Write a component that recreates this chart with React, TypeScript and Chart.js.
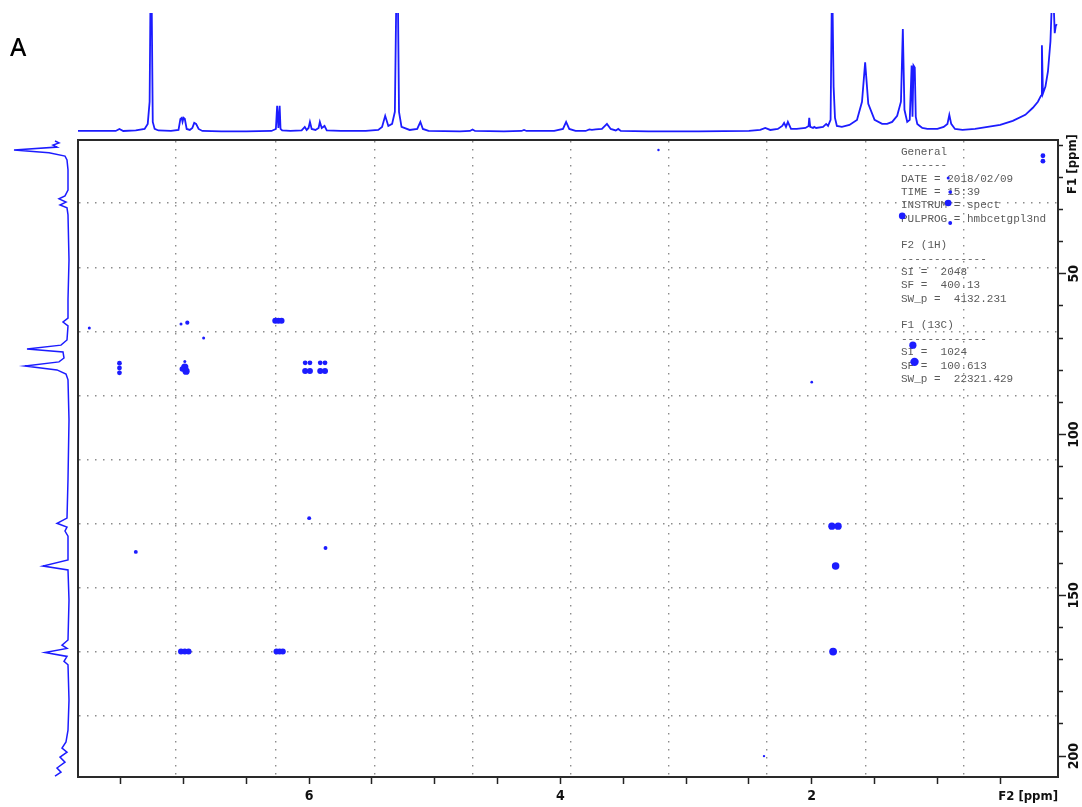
import React, { useEffect, useRef } from 'react';
import { Chart, registerables } from 'chart.js';

Chart.register(...registerables);

// ---------- axis ranges / ticks ----------
const F2_MIN = 0.04;
const F2_MAX = 7.84;
const F1_MIN = 8.4;
const F1_MAX = 206.5;
const F2_TICKS = [0.5, 1, 1.5, 2, 2.5, 3, 3.5, 4, 4.5, 5, 5.5, 6, 6.5, 7, 7.5];
const F2_LABELS = [2, 4, 6];
const F1_MAJOR = [50, 100, 150, 200];
const F1_MINOR = [10, 20, 30, 40, 60, 70, 80, 90, 110, 120, 130, 140, 160, 170, 180, 190];
const F2_GRID = [7.06, 6.27, 5.48, 4.7, 3.92, 3.14, 2.36, 1.57, 0.79];
const F1_GRID = [28, 48, 68, 88, 107.7, 127.6, 147.5, 167.4, 187.5];

// ---------- 1H projection (F2 ppm, intensity) ----------
const H1_SPECTRUM: [number, number][] = [
  [7.84, 1], [7.6, 1], [7.54, 1], [7.51, 3], [7.48, 1], [7.38, 1.5], [7.31, 3], [7.285, 8], [7.27, 30],
  [7.262, 150], [7.255, 150], [7.245, 10], [7.23, 3], [7.2, 1.5], [7.1, 1], [7.04, 2], [7.025, 13],
  [7.015, 14], [7.008, 10], [7.0, 14], [6.99, 13], [6.975, 3], [6.95, 2], [6.93, 4], [6.915, 9], [6.9, 8],
  [6.88, 3], [6.85, 1], [6.7, 0.5], [6.5, 0.5], [6.3, 1], [6.265, 3], [6.255, 26], [6.245, 4], [6.235, 26],
  [6.228, 3], [6.215, 1.5], [6.15, 1], [6.06, 1.5], [6.035, 5], [6.02, 2], [6.005, 4], [5.994, 10],
  [5.98, 3], [5.95, 2], [5.925, 4], [5.915, 10], [5.9, 4], [5.878, 6], [5.86, 1.5], [5.75, 1], [5.55, 1],
  [5.45, 2], [5.42, 5], [5.395, 16], [5.37, 6], [5.34, 8], [5.318, 20], [5.305, 150], [5.295, 150],
  [5.285, 20], [5.265, 5], [5.2, 2], [5.14, 3], [5.115, 10], [5.095, 3], [5.05, 1], [4.8, 0.5], [4.72, 1],
  [4.7, 2.5], [4.68, 1], [4.45, 0.5], [4.31, 1], [4.29, 2], [4.27, 1], [4.05, 1], [3.98, 3], [3.955, 10],
  [3.93, 3], [3.88, 1], [3.8, 1], [3.77, 2.5], [3.75, 2], [3.72, 2.5], [3.67, 3], [3.63, 8], [3.6, 3],
  [3.56, 1.5], [3.54, 3], [3.52, 1], [3.3, 0.5], [2.9, 0.5], [2.5, 1], [2.41, 2], [2.37, 4], [2.33, 2],
  [2.27, 3], [2.235, 6], [2.22, 9], [2.205, 5], [2.19, 10], [2.165, 3], [2.12, 3], [2.05, 4], [2.025, 6],
  [2.02, 14], [2.012, 5], [1.99, 4], [1.98, 5], [1.965, 4], [1.91, 5], [1.885, 8], [1.87, 6], [1.85, 12],
  [1.838, 160], [1.832, 160], [1.826, 45], [1.815, 14], [1.8, 6], [1.76, 5], [1.7, 7], [1.64, 12],
  [1.6, 30], [1.575, 69], [1.55, 28], [1.5, 12], [1.44, 8], [1.4, 8], [1.36, 10], [1.32, 16], [1.29, 30],
  [1.275, 102], [1.262, 22], [1.24, 10], [1.22, 12], [1.205, 66], [1.198, 15], [1.19, 66], [1.18, 64],
  [1.172, 15], [1.16, 8], [1.14, 6], [1.12, 4], [1.08, 3], [1.0, 3], [0.95, 5], [0.92, 8], [0.905, 17],
  [0.89, 8], [0.86, 3], [0.8, 2], [0.7, 3], [0.6, 5], [0.5, 7], [0.4, 11], [0.3, 17], [0.24, 24],
  [0.2, 30], [0.175, 36], [0.168, 86], [0.16, 38], [0.14, 45], [0.12, 60], [0.1, 90], [0.09, 125],
  [0.082, 160], [0.074, 125], [0.066, 98], [0.058, 105], [0.05, 107],
];

// ---------- 13C projection (F1 ppm, intensity) ----------
const C13_SPECTRUM: [number, number][] = [
  [8.7, 14], [9.3, 10], [10.0, 16], [10.6, 12], [11.5, 55], [12.4, 20], [13.4, 4], [14.6, 2], [17.7, 1],
  [24.0, 1], [25.8, 4], [26.7, 10], [27.7, 3], [28.6, 9], [29.5, 2], [31.7, 1], [45.7, 0], [58.0, 1],
  [63.8, 1], [65.0, 6], [66.2, 1], [70.6, 2], [72.2, 8], [73.4, 42], [74.3, 6], [76.2, 5], [77.4, 10],
  [78.7, 44], [79.9, 12], [81.2, 3], [83.0, 1], [95.5, 0], [114.0, 1], [126.0, 2], [127.6, 12], [128.8, 2],
  [130.0, 4], [131.6, 1], [139.0, 1], [140.9, 26], [142.1, 1], [151.5, 0], [163.9, 1], [165.5, 7],
  [166.5, 2], [167.8, 24], [169.0, 2], [170.5, 5], [171.6, 1], [182.6, 0], [191.9, 1], [195.6, 3],
  [197.5, 7], [198.8, 2], [200.3, 9], [201.9, 4], [203.7, 12], [205.0, 8], [206.2, 14],
];

// ---------- HMBC cross peaks (F2 ppm, F1 ppm, relative intensity) ----------
const CROSS_PEAKS: [number, number, number][] = [
  [7.75, 66.9, 1], [7.51, 77.8, 1.6], [7.51, 79.3, 1.6], [7.51, 80.8, 1.6],
  [7.02, 65.6, 1], [6.97, 65.2, 1.4], [6.99, 77.3, 1], [6.99, 79.0, 2.4], [6.98, 80.3, 2.4], [7.01, 79.6, 1.8],
  [6.84, 70.0, 1],
  [6.27, 64.6, 2], [6.245, 64.6, 2], [6.22, 64.6, 2],
  [6.032, 77.7, 1.6], [5.994, 77.7, 1.6], [5.912, 77.7, 1.6], [5.874, 77.7, 1.6],
  [6.032, 80.2, 2], [5.994, 80.2, 2], [5.912, 80.2, 2], [5.874, 80.2, 2],
  [3.22, 11.5, 0.8], [0.16, 13.3, 1.6], [0.16, 15.0, 1.6],
  [0.914, 20.2, 1], [0.898, 24.6, 1.2], [0.914, 28.0, 2.2], [1.28, 32.0, 2.2], [0.898, 34.2, 1.3],
  [1.195, 72.2, 2.4], [1.182, 77.4, 2.8], [2.0, 83.7, 0.9],
  [6.0, 126.0, 1.3], [5.87, 135.3, 1.3], [7.38, 136.5, 1.3],
  [1.84, 128.5, 2.4], [1.79, 128.5, 2.4], [1.81, 140.9, 2.5], [1.83, 167.5, 2.6],
  [7.02, 167.5, 2], [6.99, 167.5, 2], [6.96, 167.5, 2],
  [6.26, 167.5, 2], [6.235, 167.5, 2], [6.21, 167.5, 2],
  [2.38, 200.0, 0.8],
];

const PARAM_LINES = [
  'General', '-------', 'DATE = 2018/02/09', 'TIME = 15:39', 'INSTRUM = spect', 'PULPROG = hmbcetgpl3nd', '',
  'F2 (1H)', '-------------', 'SI =  2048', 'SF =  400.13', 'SW_p =  4132.231', '',
  'F1 (13C)', '-------------', 'SI =  1024', 'SF =  100.613', 'SW_p =  22321.429',
];

const BLUE = '#1c1cff';
const AXIS_FAMILY = '"DejaVu Sans Condensed", "Liberation Sans Narrow", "DejaVu Sans", sans-serif';

const fixTicks = (vals: number[]) => (scale: any) => {
  scale.ticks = vals.map((v) => ({ value: v }));
};

export default function App() {
  const mainRef = useRef<HTMLCanvasElement>(null);
  const topRef = useRef<HTMLCanvasElement>(null);
  const leftRef = useRef<HTMLCanvasElement>(null);

  useEffect(() => {
    document.body.style.margin = '0';

    const labelsPlugin = {
      id: 'nmrLabels',
      beforeDatasetsDraw(chart: any) {
        const { ctx, chartArea } = chart;
        ctx.save();
        ctx.font = '11px "Liberation Mono", "DejaVu Sans Mono", monospace';
        ctx.fillStyle = '#5a5a5a';
        ctx.textBaseline = 'middle';
        ctx.textAlign = 'left';
        PARAM_LINES.forEach((t, i) => {
          if (t) ctx.fillText(t, chartArea.right - 157, chartArea.top + 12 + i * 13.35);
        });
        ctx.restore();
      },
      afterDraw(chart: any) {
        const { ctx, chartArea } = chart;
        ctx.save();
        ctx.fillStyle = '#111';
        ctx.font = `bold 13px ${AXIS_FAMILY}`;
        ctx.textBaseline = 'middle';
        ctx.textAlign = 'right';
        ctx.fillText('F2 [ppm]', chartArea.right, chartArea.bottom + 20);
        ctx.translate(chartArea.right + 15, chartArea.top + 24);
        ctx.rotate(-Math.PI / 2);
        ctx.textAlign = 'center';
        ctx.fillText('F1 [ppm]', 0, 0);
        ctx.restore();
      },
    };

    const dotted = { color: '#8c8c8c', lineWidth: 1.4, drawOnChartArea: true, drawTicks: false };

    const main = new Chart(mainRef.current!, {
      type: 'scatter',
      data: {
        datasets: [
          {
            data: CROSS_PEAKS.map(([x, y]) => ({ x, y })),
            xAxisID: 'x',
            yAxisID: 'y',
            pointRadius: CROSS_PEAKS.map(([, , v]) => v * 1.5),
            pointStyle: 'circle',
            backgroundColor: BLUE,
            borderColor: BLUE,
            borderWidth: 0,
          },
        ],
      },
      options: {
        animation: false,
        responsive: false,
        events: [],
        layout: { padding: { left: 78, top: 140, right: 0, bottom: 0 } },
        plugins: { legend: { display: false }, tooltip: { enabled: false } },
        scales: {
          x: {
            type: 'linear',
            position: 'bottom',
            reverse: true,
            min: F2_MIN,
            max: F2_MAX,
            afterBuildTicks: fixTicks(F2_TICKS),
            afterFit: (s: any) => { s.height = 30; },
            grid: { drawOnChartArea: false, drawTicks: true, tickLength: 7, tickColor: '#222', tickWidth: 1.5, color: '#222' },
            border: { display: true, color: '#2a2a2a', width: 2 },
            ticks: {
              autoSkip: false,
              maxRotation: 0,
              padding: 4,
              color: '#111',
              font: { family: AXIS_FAMILY, size: 14, weight: 'bold' },
              callback: (v: any) => (F2_LABELS.includes(Number(v)) ? String(v) : ''),
            },
          },
          xg: {
            type: 'linear',
            position: 'top',
            reverse: true,
            min: F2_MIN,
            max: F2_MAX,
            afterBuildTicks: fixTicks(F2_GRID),
            afterFit: (s: any) => { s.height = 0; },
            grid: dotted,
            border: { display: true, color: '#2a2a2a', width: 2, dash: [1.5, 6.5] },
            ticks: { display: false },
          },
          ym: {
            type: 'linear',
            position: 'right',
            weight: 0,
            reverse: true,
            min: F1_MIN,
            max: F1_MAX,
            afterBuildTicks: fixTicks(F1_MINOR),
            afterFit: (s: any) => { s.width = 0; },
            grid: { drawOnChartArea: false, drawTicks: true, tickLength: 5, tickColor: '#222', tickWidth: 1.5 },
            border: { display: false },
            ticks: { display: false },
          },
          y: {
            type: 'linear',
            position: 'right',
            weight: 1,
            reverse: true,
            min: F1_MIN,
            max: F1_MAX,
            afterBuildTicks: fixTicks(F1_MAJOR),
            afterFit: (s: any) => { s.width = 24; },
            grid: { drawOnChartArea: false, drawTicks: true, tickLength: 8, tickColor: '#222', tickWidth: 1.5 },
            border: { display: true, color: '#2a2a2a', width: 2 },
            ticks: {
              autoSkip: false,
              minRotation: 90,
              maxRotation: 90,
              crossAlign: 'center',
              padding: -5,
              color: '#111',
              font: { family: AXIS_FAMILY, size: 14, weight: 'bold' },
            },
          },
          yg: {
            type: 'linear',
            position: 'left',
            reverse: true,
            min: F1_MIN,
            max: F1_MAX,
            afterBuildTicks: fixTicks(F1_GRID),
            afterFit: (s: any) => { s.width = 0; },
            grid: dotted,
            border: { display: true, color: '#2a2a2a', width: 2, dash: [1.5, 6.5] },
            ticks: { display: false },
          },
        },
      } as any,
      plugins: [labelsPlugin],
    });

    const letterPlugin = {
      id: 'panelLetter',
      afterDraw(chart: any) {
        const { ctx } = chart;
        ctx.save();
        ctx.fillStyle = '#000';
        ctx.font = '500 25px "Noto Sans", Lato, sans-serif';
        ctx.textBaseline = 'alphabetic';
        ctx.textAlign = 'left';
        ctx.fillText('A', 10, 56);
        ctx.restore();
      },
    };

    const top = new Chart(topRef.current!, {
      type: 'line',
      data: {
        datasets: [
          {
            data: H1_SPECTRUM.map(([x, y]) => ({ x, y })),
            borderColor: BLUE,
            borderWidth: 1.8,
            pointRadius: 0,
            tension: 0,
            fill: false,
          },
        ],
      },
      options: {
        animation: false,
        responsive: false,
        events: [],
        layout: { padding: { left: 78, right: 24, top: 13, bottom: 5 } },
        plugins: { legend: { display: false }, tooltip: { enabled: false } },
        scales: {
          x: { type: 'linear', reverse: true, min: F2_MIN, max: F2_MAX, display: false },
          y: { type: 'linear', min: -3, max: 118, display: false },
        },
      } as any,
      plugins: [letterPlugin],
    });

    const left = new Chart(leftRef.current!, {
      type: 'line',
      data: {
        datasets: [
          {
            data: C13_SPECTRUM.map(([y, x]) => ({ x, y })),
            borderColor: BLUE,
            borderWidth: 1.5,
            pointRadius: 0,
            tension: 0,
            fill: false,
          },
        ],
      },
      options: {
        animation: false,
        responsive: false,
        events: [],
        layout: { padding: { left: 10, right: 8, top: 140, bottom: 30 } },
        plugins: { legend: { display: false }, tooltip: { enabled: false } },
        scales: {
          x: { type: 'linear', reverse: true, min: -1, max: 59, display: false },
          y: { type: 'linear', reverse: true, min: F1_MIN, max: F1_MAX, display: false },
        },
      } as any,
    });

    return () => {
      main.destroy();
      top.destroy();
      left.destroy();
    };
  }, []);

  return (
    <div style={{ position: 'fixed', left: 0, top: 0, width: 1082, height: 807, background: '#fff' }}>
      <canvas ref={mainRef} width={1082} height={807} style={{ position: 'absolute', left: 0, top: 0 }} />
      <canvas ref={topRef} width={1082} height={140} style={{ position: 'absolute', left: 0, top: 0 }} />
      <canvas ref={leftRef} width={78} height={807} style={{ position: 'absolute', left: 0, top: 0 }} />
    </div>
  );
}
